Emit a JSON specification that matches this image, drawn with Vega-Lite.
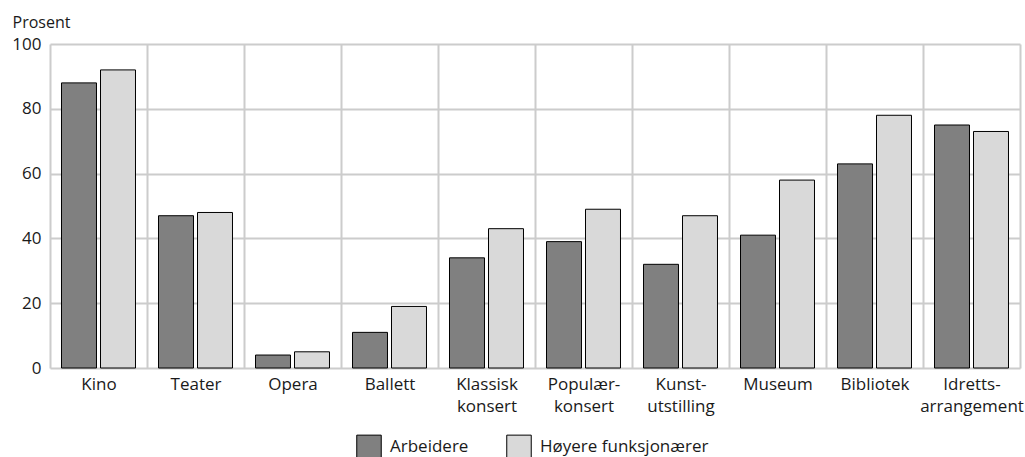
{
  "$schema": "https://vega.github.io/schema/vega-lite/v6.json",
  "width": 970,
  "height": 324,
  "autosize": {"type": "none"},
  "padding": {"left": 50, "top": 44, "right": 5, "bottom": 89},
  "background": "white",
  "config": {
    "view": {"stroke": null},
    "font": "Open Sans"
  },
  "data": {
    "values": [
      {"aktivitet": "Kino", "gruppe": "Arbeidere", "prosent": 88},
      {"aktivitet": "Kino", "gruppe": "Høyere funksjonærer", "prosent": 92},
      {"aktivitet": "Teater", "gruppe": "Arbeidere", "prosent": 47},
      {"aktivitet": "Teater", "gruppe": "Høyere funksjonærer", "prosent": 48},
      {"aktivitet": "Opera", "gruppe": "Arbeidere", "prosent": 4},
      {"aktivitet": "Opera", "gruppe": "Høyere funksjonærer", "prosent": 5},
      {"aktivitet": "Ballett", "gruppe": "Arbeidere", "prosent": 11},
      {"aktivitet": "Ballett", "gruppe": "Høyere funksjonærer", "prosent": 19},
      {"aktivitet": "Klassisk konsert", "gruppe": "Arbeidere", "prosent": 34},
      {"aktivitet": "Klassisk konsert", "gruppe": "Høyere funksjonærer", "prosent": 43},
      {"aktivitet": "Populærkonsert", "gruppe": "Arbeidere", "prosent": 39},
      {"aktivitet": "Populærkonsert", "gruppe": "Høyere funksjonærer", "prosent": 49},
      {"aktivitet": "Kunstutstilling", "gruppe": "Arbeidere", "prosent": 32},
      {"aktivitet": "Kunstutstilling", "gruppe": "Høyere funksjonærer", "prosent": 47},
      {"aktivitet": "Museum", "gruppe": "Arbeidere", "prosent": 41},
      {"aktivitet": "Museum", "gruppe": "Høyere funksjonærer", "prosent": 58},
      {"aktivitet": "Bibliotek", "gruppe": "Arbeidere", "prosent": 63},
      {"aktivitet": "Bibliotek", "gruppe": "Høyere funksjonærer", "prosent": 78},
      {"aktivitet": "Idrettsarrangement", "gruppe": "Arbeidere", "prosent": 75},
      {"aktivitet": "Idrettsarrangement", "gruppe": "Høyere funksjonærer", "prosent": 73}
    ]
  },
  "mark": {"type": "bar", "stroke": "#000000", "strokeWidth": 1},
  "encoding": {
    "x": {
      "field": "aktivitet",
      "type": "nominal",
      "sort": ["Kino", "Teater", "Opera", "Ballett", "Klassisk konsert", "Populærkonsert", "Kunstutstilling", "Museum", "Bibliotek", "Idrettsarrangement"],
      "scale": {"paddingInner": 0, "paddingOuter": 0},
      "axis": {
        "title": null,
        "labelAngle": 0,
        "labelFontSize": 17,
        "labelColor": "#1a1a1a",
        "labelPadding": 8,
        "labelLineHeight": 22,
        "labelBaseline": "top",
        "labelExpr": "datum.value == 'Klassisk konsert' ? ['Klassisk', 'konsert'] : datum.value == 'Populærkonsert' ? ['Populær-', 'konsert'] : datum.value == 'Kunstutstilling' ? ['Kunst-', 'utstilling'] : datum.value == 'Idrettsarrangement' ? ['Idretts-', 'arrangement'] : datum.value",
        "labelOverlap": false,
        "ticks": false,
        "domain": false,
        "grid": true,
        "tickBand": "extent",
        "gridColor": "#cccccc",
        "gridWidth": 2,
        "gridOpacity": 1
      }
    },
    "xOffset": {
      "field": "gruppe",
      "type": "nominal",
      "sort": ["Arbeidere", "Høyere funksjonærer"],
      "scale": {"paddingInner": 0.1026, "paddingOuter": 0.295}
    },
    "y": {
      "field": "prosent",
      "type": "quantitative",
      "scale": {"domain": [0, 100], "nice": false},
      "axis": {
        "title": "Prosent",
        "titleAngle": 0,
        "titleAlign": "left",
        "titleBaseline": "alphabetic",
        "titleX": -38,
        "titleY": -17,
        "titleFontSize": 16,
        "titleFontWeight": "normal",
        "titleColor": "#1a1a1a",
        "values": [0, 20, 40, 60, 80, 100],
        "labelFontSize": 17,
        "labelColor": "#1a1a1a",
        "labelPadding": 9,
        "ticks": false,
        "domain": false,
        "grid": true,
        "gridColor": "#cccccc",
        "gridWidth": 2,
        "gridOpacity": 1
      }
    },
    "fill": {
      "field": "gruppe",
      "type": "nominal",
      "sort": ["Arbeidere", "Høyere funksjonærer"],
      "scale": {"domain": ["Arbeidere", "Høyere funksjonærer"], "range": ["#808080", "#d9d9d9"]},
      "legend": {
        "title": null,
        "orient": "none",
        "direction": "horizontal",
        "legendX": 306,
        "legendY": 390,
        "symbolType": "square",
        "symbolSize": 600,
        "symbolStrokeColor": "#000000",
        "symbolStrokeWidth": 1,
        "symbolOpacity": 1,
        "labelFontSize": 17,
        "labelColor": "#1a1a1a",
        "labelOffset": 8,
        "labelLimit": 400,
        "columnPadding": 35
      }
    }
  }
}
